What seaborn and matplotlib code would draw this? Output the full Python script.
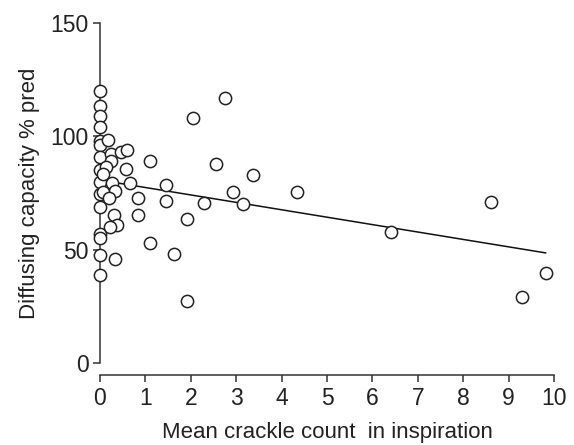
import numpy as np
import pandas as pd
import seaborn as sns
import matplotlib.pyplot as plt

# values
crackles = [0, 0, 0, 0, 0, 0, 0, 0, 0, 0, 0, 0, 0, 0, 0,
            0.17, 0.25, 0.25, 0.14, 0.06, 0.47, 0.60, 0.58, 1.11, 0.26,
            0.32, 0.06, 0.19, 0.67, 0.83, 1.46, 1.45, 0.30, 0.37, 0.22,
            0.83, 0.32, 1.10, 1.64, 1.91, 1.92, 2.04, 2.76, 2.55, 3.36,
            2.94, 4.33, 2.30, 3.14, 6.41, 8.61, 9.30, 9.82]
dlco = [120, 113.5, 109, 104, 98, 96, 91, 85, 80, 74.5, 69, 57, 55, 47.5, 39,
        98.5, 92, 89, 86.5, 83.5, 93, 94, 85.5, 89, 79.5,
        76, 75.5, 73, 79.5, 73, 78.5, 71.5, 65.3, 61, 60,
        65.5, 46, 53, 48, 27.3, 63.7, 108, 117, 88, 82.8,
        75.6, 75.4, 70.6, 70.3, 57.8, 71, 29, 39.6]
x_ticks = list(range(0, 11))
y_ticks = [0, 50, 100, 150]

df = pd.DataFrame({'crackles': crackles, 'dlco': dlco})

sns.set_style('white')
plt.rcParams['font.family'] = ['Liberation Sans', 'DejaVu Sans']

fig = plt.figure(figsize=(5.74, 4.45), dpi=100)
ax = fig.add_axes([0.1742, 0.1843, 0.791, 0.7640])

sns.regplot(data=df, x='crackles', y='dlco', ci=None, ax=ax,
            scatter_kws=dict(s=78, facecolor='white', edgecolor='#222222',
                             linewidths=1.1, alpha=1, clip_on=False, zorder=3),
            line_kws=dict(color='#111111', lw=1.1, zorder=2))

ax.set_xlim(0, 10)
ax.set_ylim(0, 150)
ax.set_xticks(x_ticks)
ax.set_yticks(y_ticks)
ax.set_xlabel('Mean crackle count  in inspiration', fontsize=16,
              color='#222222', labelpad=9)
ax.set_ylabel('Diffusing capacity % pred', fontsize=16,
              color='#222222', labelpad=8)

sns.despine(ax=ax)
ax.spines['bottom'].set_position(('outward', 9))
for s in ['left', 'bottom']:
    ax.spines[s].set_color('#333333')
    ax.spines[s].set_linewidth(1.1)
ax.tick_params(axis='both', direction='out', length=5, width=1.1,
               color='#333333', labelsize=16.5, pad=3, labelcolor='#222222')
ax.tick_params(left=True, bottom=True)

plt.savefig('out.png', dpi=100)
